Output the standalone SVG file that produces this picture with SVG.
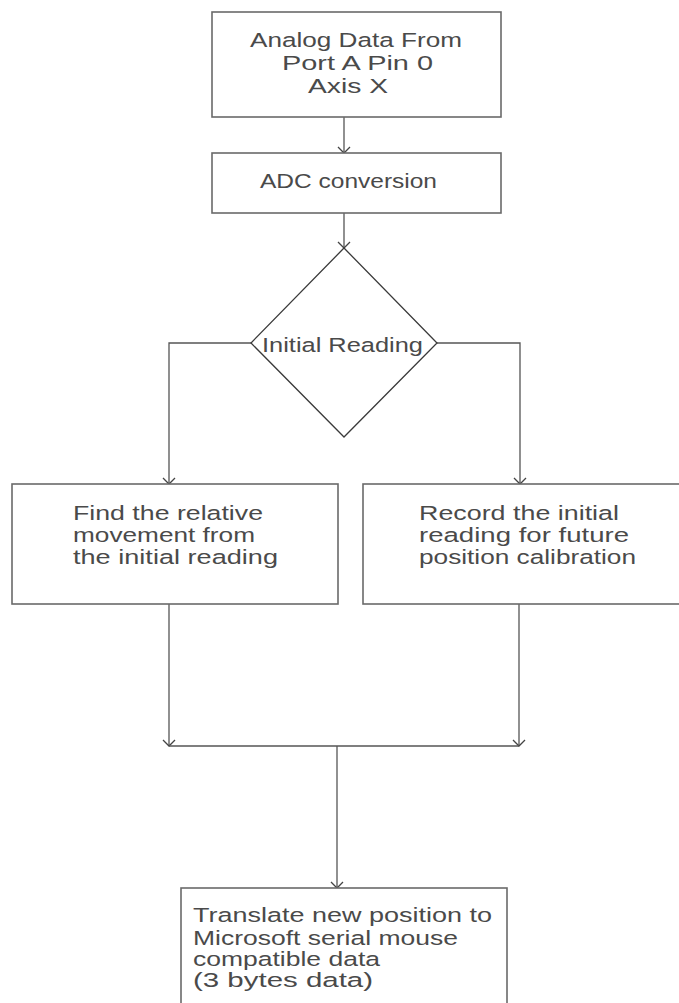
<svg xmlns="http://www.w3.org/2000/svg" width="679" height="1003" viewBox="0 0 679 1003">
<style>
.box{fill:#fff;stroke:#6a6a6a;stroke-width:1.6}
.dia{fill:#fff;stroke:#3a3a3a;stroke-width:1.3}
.t{font-family:"Liberation Sans",Arial,sans-serif;font-size:20.5px;fill:#4a4a4a}
.ln{fill:none;stroke:#555;stroke-width:1.3}
</style>
<defs>
<marker id="arr" markerUnits="userSpaceOnUse" markerWidth="16" markerHeight="16" viewBox="-8 -8 16 16" refX="0" refY="0" orient="auto">
<path d="M-6,-6 L0,0 L-6,6" fill="none" stroke="#444" stroke-width="1.3"/>
</marker>
</defs>
<g id="connectors">
<line class="ln" x1="344" y1="117" x2="344" y2="153" marker-end="url(#arr)"/>
<line class="ln" x1="344" y1="213" x2="344" y2="248" marker-end="url(#arr)"/>
<polyline class="ln" points="251,343 169,343 169,484" marker-end="url(#arr)"/>
<polyline class="ln" points="437,343 520,343 520,484" marker-end="url(#arr)"/>
<line class="ln" x1="169" y1="604" x2="169" y2="746" marker-end="url(#arr)"/>
<line class="ln" x1="519" y1="604" x2="519" y2="746" marker-end="url(#arr)"/>
<line class="ln" x1="169" y1="746" x2="519" y2="746"/>
<line class="ln" x1="337" y1="746" x2="337" y2="888" marker-end="url(#arr)"/>
</g>
<g id="n1">
<rect class="box" x="212" y="12" width="289" height="105"/>
<text class="t" x="250" y="47" textLength="212" lengthAdjust="spacingAndGlyphs">Analog Data From</text>
<text class="t" x="282" y="70" textLength="151" lengthAdjust="spacingAndGlyphs">Port A Pin 0</text>
<text class="t" x="308" y="93" textLength="80" lengthAdjust="spacingAndGlyphs">Axis X</text>
</g>
<g id="n2">
<rect class="box" x="212" y="153" width="289" height="60"/>
<text class="t" x="260" y="188" textLength="177" lengthAdjust="spacingAndGlyphs">ADC conversion</text>
</g>
<g id="n3">
<polygon class="dia" points="344,248 437,343 344,437 251,343"/>
<text class="t" x="262" y="352" textLength="161" lengthAdjust="spacingAndGlyphs">Initial Reading</text>
</g>
<g id="n4">
<rect class="box" x="12" y="484" width="326" height="120"/>
<text class="t" x="73" y="520" textLength="190" lengthAdjust="spacingAndGlyphs">Find the relative</text>
<text class="t" x="73" y="542" textLength="182" lengthAdjust="spacingAndGlyphs">movement from</text>
<text class="t" x="73" y="564" textLength="205" lengthAdjust="spacingAndGlyphs">the initial reading</text>
</g>
<g id="n5">
<rect class="box" x="363" y="484" width="330" height="120"/>
<text class="t" x="419" y="520" textLength="200" lengthAdjust="spacingAndGlyphs">Record the initial</text>
<text class="t" x="419" y="542" textLength="210" lengthAdjust="spacingAndGlyphs">reading for future</text>
<text class="t" x="419" y="564" textLength="217" lengthAdjust="spacingAndGlyphs">position calibration</text>
</g>
<g id="n6">
<rect class="box" x="181" y="888" width="326" height="130"/>
<text class="t" x="193" y="922" textLength="299" lengthAdjust="spacingAndGlyphs">Translate new position to</text>
<text class="t" x="193" y="945" textLength="265" lengthAdjust="spacingAndGlyphs">Microsoft serial mouse</text>
<text class="t" x="193" y="966" textLength="187" lengthAdjust="spacingAndGlyphs">compatible data</text>
<text class="t" x="193" y="987" textLength="180" lengthAdjust="spacingAndGlyphs">(3 bytes data)</text>
</g>
</svg>
